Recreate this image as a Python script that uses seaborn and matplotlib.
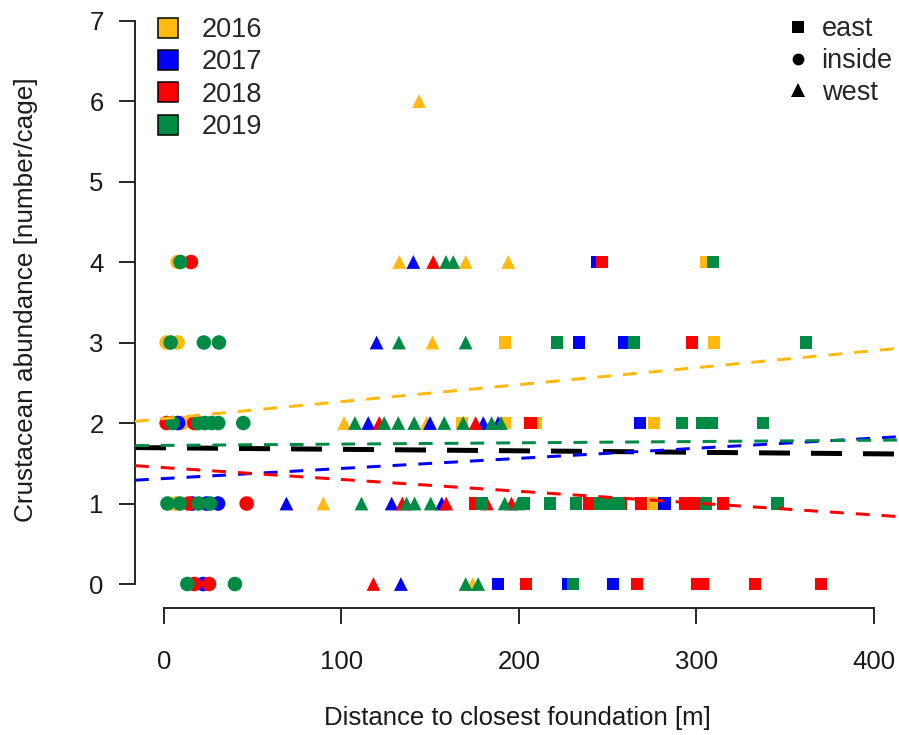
import numpy as np
import pandas as pd
import matplotlib
matplotlib.use("Agg")
import matplotlib.pyplot as plt
from matplotlib.lines import Line2D
import seaborn as sns

# ---------------- data ----------------
years = ["2016", "2017", "2018", "2019"]
colors = ["#FFB90F", "#0000FF", "#FF0000", "#008B45"]
sites = ["east", "inside", "west"]

dist_2016 = [1.5, 7.7, 7.7, 6.5, 10.3, 18.4, 89.8, 101.5, 148.0, 151.3, 132.6, 170.0, 194.0, 143.7,
             174.0, 167.7, 192.1, 209.7, 276.2, 192.0, 309.7, 305.7, 276.0]
abund_2016 = [3, 3, 4, 1, 2, 2, 1, 2, 2, 3, 4, 4, 4, 6,
              0, 2, 2, 2, 2, 3, 3, 4, 1]
site_2016 = ["inside", "inside", "inside", "inside", "inside", "inside", "west", "west", "west", "west", "west", "west", "west", "west",
             "west", "east", "east", "east", "east", "east", "east", "east", "east"]

dist_2017 = [22.1, 16.0, 24.0, 30.5, 8.0, 133.5, 69.0, 128.3, 156.5, 115.1, 149.9, 179.9, 188.3, 119.8, 140.5,
             188.3, 227.6, 253.0, 282.0, 268.3, 233.8, 259.2, 244.0]
abund_2017 = [0, 1, 1, 1, 2, 0, 1, 1, 1, 2, 2, 2, 2, 3, 4,
              0, 0, 0, 1, 2, 3, 3, 4]
site_2017 = ["inside", "inside", "inside", "inside", "inside", "west", "west", "west", "west", "west", "west", "west", "west", "west", "west",
             "east", "east", "east", "east", "east", "east", "east", "east"]

dist_2018 = [17.1, 25.4, 14.0, 46.6, 1.5, 17.1, 15.2, 118.0, 134.3, 159.0, 182.0, 195.8, 121.3, 175.6, 151.7,
             203.8, 266.7, 300.3, 303.6, 333.0, 370.0, 175.0, 239.4, 257.5, 269.0, 293.5, 300.0, 315.0,
             206.5, 297.6, 246.6]
abund_2018 = [0, 0, 1, 1, 2, 2, 4, 0, 1, 1, 1, 1, 2, 2, 4,
              0, 0, 0, 0, 0, 0, 1, 1, 1, 1, 1, 1, 1,
              2, 3, 4]
site_2018 = ["inside", "inside", "inside", "inside", "inside", "inside", "inside", "west", "west", "west", "west", "west", "west", "west", "west",
             "east", "east", "east", "east", "east", "east", "east", "east", "east", "east", "east", "east", "east",
             "east", "east", "east"]

dist_2019 = [13.2, 40.0, 2.0, 9.0, 19.5, 26.0, 4.9, 19.3, 23.1, 26.8, 30.6, 44.7, 3.8, 22.5, 31.0, 9.3,
             170.0, 177.0, 111.3, 136.7, 141.2, 150.3, 192.0, 199.6, 107.6, 124.1, 132.0, 141.0, 157.9, 168.6,
             184.6, 189.9, 132.4, 170.0, 158.9, 163.0,
             230.6, 179.0, 203.0, 217.5, 232.0, 245.0, 250.7, 256.3, 305.6, 345.7, 292.0, 302.9, 308.5, 337.6,
             221.6, 264.8, 361.5, 309.5]
abund_2019 = [0, 0, 1, 1, 1, 1, 2, 2, 2, 2, 2, 2, 3, 3, 3, 4,
              0, 0, 1, 1, 1, 1, 1, 1, 2, 2, 2, 2, 2, 2,
              2, 2, 3, 3, 4, 4,
              0, 1, 1, 1, 1, 1, 1, 1, 1, 1, 2, 2, 2, 2,
              3, 3, 3, 4]
site_2019 = ["inside"] * 16 + ["west"] * 20 + ["east"] * 18

# fitted lines: intercept and slope per year, and the overall fit
line_intercepts = [2.055, 1.31, 1.446, 1.722]
line_slopes = [0.00211, 0.001255, -0.00147, 0.00016]
overall_intercept = 1.692
overall_slope = -0.000186

# ---------------- build table ----------------
frames = []
for yr, d, a, s in zip(years,
                       [dist_2016, dist_2017, dist_2018, dist_2019],
                       [abund_2016, abund_2017, abund_2018, abund_2019],
                       [site_2016, site_2017, site_2018, site_2019]):
    frames.append(pd.DataFrame({"distance": d, "abundance": a, "site": s, "year": yr}))
df = pd.concat(frames, ignore_index=True)

# ---------------- style ----------------
sns.set_theme(style="white")
plt.rcParams["font.family"] = ["Liberation Sans", "DejaVu Sans"]
plt.rcParams["axes.grid"] = False

W, H = 899, 735
fig = plt.figure(figsize=(W / 100, H / 100), dpi=100)
ax = fig.add_axes([135 / W, 127 / H, 764 / W, 608 / H])

palette = dict(zip(years, colors))
markers = {"east": "s", "inside": "o", "west": "^"}
sizes = {"east": 76, "inside": 110, "west": 98}

sns.scatterplot(data=df, x="distance", y="abundance", hue="year", style="site",
                size="site", sizes=sizes, markers=markers, palette=palette,
                hue_order=years, style_order=sites, size_order=sites,
                linewidth=0, legend=False, ax=ax, zorder=1)

# regression lines
ax.axline((0, overall_intercept), slope=overall_slope, color="black", lw=3.6,
          linestyle=(0, (6.2, 4.2)), dash_capstyle="butt", zorder=2)
for yr, c, b, m in zip(years, colors, line_intercepts, line_slopes):
    ax.axline((0, b), slope=m, color=c, lw=2.16, linestyle=(0, (4.6, 4.0)),
              dash_capstyle="butt", zorder=3)

# axes limits (R style)
ax.set_xlim(-16.3, -16.3 + 764 / 1.775)
ax.set_ylim(-0.298, 7.255)
ax.set_xticks([0, 100, 200, 300, 400])
ax.set_yticks(range(0, 8))
for side in ["top", "right"]:
    ax.spines[side].set_visible(False)
ax.spines["left"].set_bounds(0, 7)
ax.spines["bottom"].set_bounds(0, 400)
for side in ["left", "bottom"]:
    ax.spines[side].set_linewidth(1.4)
    ax.spines[side].set_color("#262626")
ax.tick_params(axis="both", which="major", bottom=True, left=True, direction="out",
               length=11.5, width=1.4, color="#262626",
               labelsize=18.5, labelcolor="#1a1a1a")
ax.tick_params(axis="y", pad=11)
ax.tick_params(axis="x", pad=19)

ax.set_xlabel("Distance to closest foundation [m]", fontsize=18.5, color="#1a1a1a")
ax.set_ylabel("Crustacean abundance [number/cage]", fontsize=18.8, color="#1a1a1a")
ax.xaxis.label.set_va("center")
ax.yaxis.label.set_va("center")
ax.xaxis.set_label_coords(0.5, -110 / 608)
ax.yaxis.set_label_coords((26 - 135) / 764, (608 - 300) / 608)

# legends
year_handles = [Line2D([], [], linestyle="none", marker="s", markersize=14.5,
                       markerfacecolor=c, markeredgecolor="black", markeredgewidth=1.1, label=y)
                for y, c in zip(years, colors)]
leg1 = ax.legend(handles=year_handles, loc="upper left",
                 bbox_to_anchor=(154.5 / W, 1 - 17 / H), bbox_transform=fig.transFigure,
                 frameon=False, fontsize=19.5, handlelength=1.0, handletextpad=0.745,
                 labelspacing=0.235, borderpad=0, borderaxespad=0)
ax.add_artist(leg1)

site_sizes = {"east": 8, "inside": 8.5, "west": 9.5}
site_handles = [Line2D([], [], linestyle="none", marker=markers[s], markersize=site_sizes[s],
                       markerfacecolor="black", markeredgecolor="black", markeredgewidth=0, label=s)
                for s in sites]
leg2 = ax.legend(handles=site_handles, loc="upper left",
                 bbox_to_anchor=(784.2 / W, 1 - 16.2 / H), bbox_transform=fig.transFigure,
                 frameon=False, fontsize=19.5, handlelength=1.0, handletextpad=0.38,
                 labelspacing=0.215, borderpad=0, borderaxespad=0)

fig.savefig("out.png", dpi=100)
